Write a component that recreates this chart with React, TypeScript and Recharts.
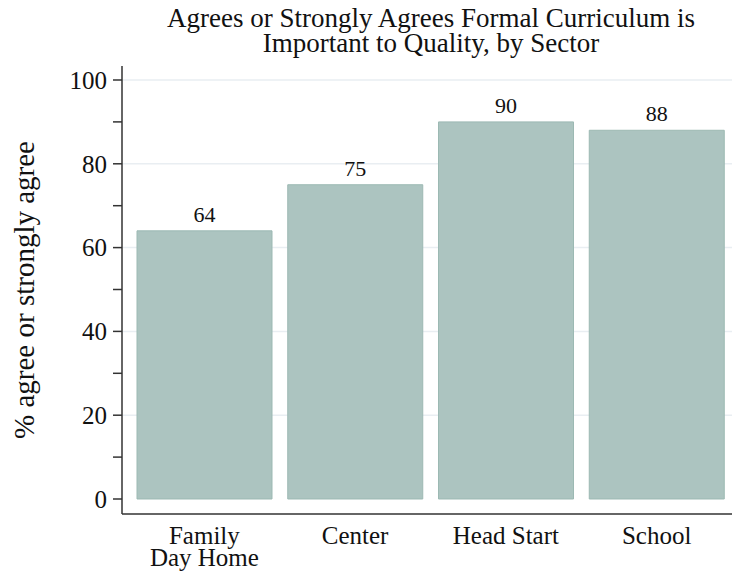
import { BarChart, Bar, XAxis, YAxis, CartesianGrid, LabelList } from "recharts";

const sectors = ["Family\nDay Home", "Center", "Head Start", "School"];
const agreePct = [64, 75, 90, 88];
const yTicks = [0, 10, 20, 30, 40, 50, 60, 70, 80, 90, 100];
const yGrid = [20, 40, 60, 80, 100];

const data = sectors.map((s, i) => ({ sector: s, pct: agreePct[i] }));

const FONT = "'Liberation Serif', 'Times New Roman', serif";

function SectorTick(props: any) {
  const { x, y, payload } = props;
  const lines = String(payload.value).split("\n");
  return (
    <text x={x} y={y + 30} textAnchor="middle" fontFamily={FONT} fontSize={25} fill="#111">
      {lines.map((l, i) => (
        <tspan key={i} x={x} dy={i === 0 ? 0 : 22}>
          {l}
        </tspan>
      ))}
    </text>
  );
}

function YTitle(props: any) {
  const vb = props.viewBox;
  const cx = 34;
  const cy = vb.y + vb.height / 2;
  return (
    <text
      x={cx}
      y={cy}
      transform={`rotate(-90 ${cx} ${cy})`}
      textAnchor="middle"
      fontFamily={FONT}
      fontSize={29}
      fill="#111"
    >
      % agree or strongly agree
    </text>
  );
}

export default function App() {
  return (
    <div style={{ position: "absolute", left: 0, top: 0, width: 732, height: 573, background: "#fff" }}>
      <div
        style={{
          position: "absolute",
          left: 126,
          top: 6,
          width: 610,
          textAlign: "center",
          fontFamily: FONT,
          fontSize: 27,
          lineHeight: "25px",
          color: "#111",
        }}
      >
        Agrees or Strongly Agrees Formal Curriculum is
        <br />
        Important to Quality, by Sector
      </div>
      <BarChart
        width={732}
        height={573}
        data={data}
        margin={{ top: 66, right: 0, bottom: 0, left: 0 }}
        barSize={135}
      >
        <CartesianGrid horizontal vertical={false} horizontalValues={yGrid} stroke="#e9eef2" strokeWidth={1.5} />
        <XAxis
          dataKey="sector"
          height={59}
          padding={{ left: 7, right: 0 }}
          tickLine={false}
          tickSize={0}
          tickMargin={0}
          tick={<SectorTick />}
          axisLine={{ stroke: "#333", strokeWidth: 1.5 }}
          interval={0}
        />
        <YAxis
          type="number"
          width={122}
          domain={[-3.58, 103.34]}
          allowDataOverflow
          ticks={yTicks}
          interval={0}
          tickFormatter={(v: number) => (v % 20 === 0 ? String(v) : "")}
          tickSize={9}
          tickMargin={6}
          tickLine={{ stroke: "#333", strokeWidth: 1.5 }}
          axisLine={{ stroke: "#333", strokeWidth: 1.5 }}
          tick={{ fontFamily: FONT, fontSize: 25, fill: "#111" }}
          label={<YTitle />}
        />
        <Bar dataKey="pct" fill="#acc4c0" stroke="#9cb9b3" strokeWidth={1} isAnimationActive={false}>
          <LabelList dataKey="pct" position="top" offset={9} fontFamily={FONT} fontSize={22} fill="#111" />
        </Bar>
      </BarChart>
    </div>
  );
}
